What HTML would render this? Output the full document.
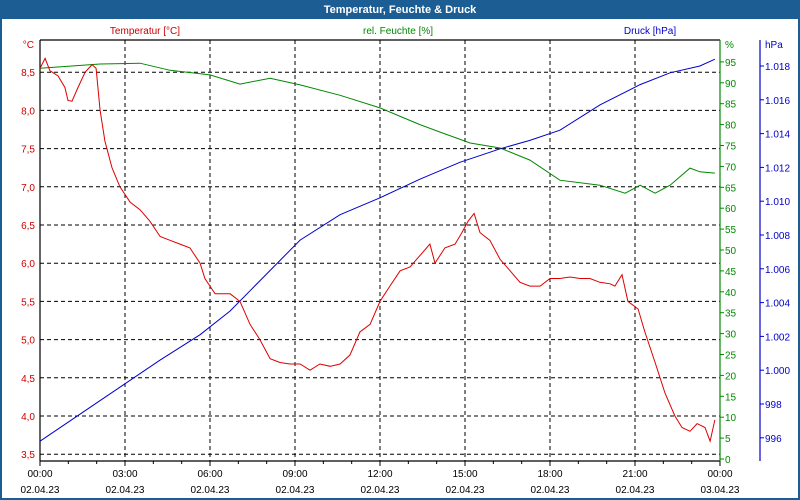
<!DOCTYPE html>
<html><head><meta charset="utf-8"><style>
body{margin:0;width:800px;height:500px;overflow:hidden;background:#fff;font-family:"Liberation Sans",sans-serif}
</style></head><body>
<svg id="c" width="800" height="500" style="position:absolute;left:0;top:0">
<rect x="0" y="0" width="800" height="500" fill="#fff"/>
<rect x="0" y="0" width="800" height="19" fill="#1c5e94"/>
<rect x="0" y="0" width="2" height="500" fill="#1c5e94"/>
<rect x="798" y="0" width="2" height="500" fill="#1c5e94"/>
<rect x="0" y="498" width="800" height="2" fill="#1c5e94"/>
<text x="400" y="13" fill="#fff" font-size="11" font-weight="bold" text-anchor="middle">Temperatur, Feuchte &amp; Druck</text>
<text x="145" y="34" fill="#c00" font-size="10" text-anchor="middle">Temperatur [°C]</text>
<text x="398" y="34" fill="#080" font-size="10" text-anchor="middle">rel. Feuchte [%]</text>
<text x="650" y="34" fill="#00c" font-size="10" text-anchor="middle">Druck [hPa]</text>
<text x="34" y="48" fill="#c00" font-size="10" text-anchor="end">°C</text>
<text x="725" y="48" fill="#080" font-size="10">%</text>
<text x="765" y="48" fill="#00c" font-size="10">hPa</text>
<g id="grid"></g><g id="axes"></g><g id="series"></g>
</svg>
<script>
const tempHours=[0,0.18,0.35,0.64,0.88,0.99,1.13,1.34,1.59,1.84,1.98,2.12,2.29,2.54,2.82,3.18,3.53,3.88,4.24,4.59,4.94,5.29,5.65,5.82,6.18,6.71,7.06,7.41,7.76,8.12,8.47,8.82,9.18,9.53,9.88,10.24,10.59,10.94,11.29,11.65,12,12.35,12.71,13.06,13.41,13.76,13.94,14.29,14.65,14.89,15.11,15.32,15.53,15.88,16.24,16.59,16.94,17.29,17.65,18,18.35,18.71,19.06,19.41,19.76,20.12,20.29,20.54,20.75,21.11,21.35,21.71,22.06,22.41,22.66,22.94,23.19,23.47,23.65,23.82];
const tempValues=[8.55,8.68,8.52,8.45,8.3,8.13,8.12,8.3,8.5,8.6,8.55,8.0,7.6,7.25,7.0,6.8,6.7,6.55,6.35,6.3,6.25,6.2,6.0,5.8,5.6,5.6,5.5,5.2,5.0,4.75,4.7,4.68,4.68,4.6,4.68,4.65,4.68,4.8,5.1,5.2,5.5,5.7,5.9,5.95,6.1,6.25,6.0,6.2,6.25,6.4,6.55,6.65,6.4,6.3,6.05,5.9,5.75,5.7,5.7,5.8,5.8,5.82,5.8,5.8,5.75,5.73,5.7,5.85,5.5,5.4,5.1,4.7,4.3,4.0,3.85,3.8,3.9,3.85,3.67,3.95];
const humHours=[0,2.12,3.53,4.59,6,7.06,8.12,9.18,10.59,12,13.41,14.12,15.18,16.24,17.29,18.35,19.76,20.65,21.18,21.71,22.24,22.94,23.29,23.82];
const humValues=[93.5,94.5,94.7,93,91.9,89.7,91.1,89.5,87,84,80,78.2,75.6,74.4,71.5,66.7,65.5,63.6,65.5,63.6,65.5,69.6,68.7,68.4];
const presHours=[0,1.06,2.12,3.18,4.24,5.65,6.71,7.41,9.18,10.59,12,13.41,14.82,16.24,17.29,18.35,19.76,21.18,22.24,23.29,23.82];
const presValues=[995.8,997,998.2,999.4,1000.6,1002.1,1003.5,1004.7,1007.7,1009.2,1010.2,1011.3,1012.3,1013.1,1013.6,1014.2,1015.7,1016.9,1017.6,1018,1018.4];
const tempTicks=[3.5,4.0,4.5,5.0,5.5,6.0,6.5,7.0,7.5,8.0,8.5];
const humTicks=[0,5,10,15,20,25,30,35,40,45,50,55,60,65,70,75,80,85,90,95];
const presTicks=[996,998,1000,1002,1004,1006,1008,1010,1012,1014,1016,1018];
const timeLabels=["00:00","03:00","06:00","09:00","12:00","15:00","18:00","21:00","00:00"];
const dateLabels=["02.04.23","02.04.23","02.04.23","02.04.23","02.04.23","02.04.23","02.04.23","02.04.23","03.04.23"];

const X0=40,X1=720,YT=40,YB=461;
const xS=h=>X0+h*(X1-X0)/24;
const yT=v=>416-(v-4)*76.4;
const yH=v=>459-v*4.18;
const yP=v=>66+(1018-v)*16.9;
const NS="http://www.w3.org/2000/svg";
function mk(tag,attrs,parent){const e=document.createElementNS(NS,tag);for(const k in attrs)e.setAttribute(k,attrs[k]);parent.appendChild(e);return e;}
const grid=document.getElementById('grid'),axes=document.getElementById('axes'),series=document.getElementById('series');

tempTicks.forEach(v=>{
  const y=yT(v);
  if(v>3.5||true){const l=mk('line',{x1:X0,x2:X1,y1:y,y2:y,stroke:'#000','stroke-dasharray':'4,3','stroke-width':1},grid);
  
  }
  const t=mk('text',{x:35,y:y+4,fill:'#c00','font-size':10,'text-anchor':'end'},axes);
  t.textContent=v.toFixed(1).replace('.',',');
  
  
});
timeLabels.forEach((s,i)=>{
  const x=xS(i*3);
  if(i>0&&i<8){const l=mk('line',{x1:x,x2:x,y1:YT,y2:YB,stroke:'#000','stroke-dasharray':'4,3'},grid);
  
  }
  const t=mk('text',{x:x,y:477,fill:'#000','font-size':10,'text-anchor':'middle'},axes);
  t.textContent=s;
  
  
  const d=mk('text',{x:x,y:493,fill:'#000','font-size':10,'text-anchor':'middle'},axes);
  d.textContent=dateLabels[i];
  
  
});
for(let h=0;h<=24;h++){const x=xS(h);const l=mk('line',{x1:x,x2:x,y1:YB,y2:YB+(h%3?3:5),stroke:'#000'},axes);
  
  }
humTicks.forEach(v=>{const y=yH(v);
  const l=mk('line',{x1:X1,x2:X1+4,y1:y,y2:y,stroke:'#080'},axes);
  
  
  const t=mk('text',{x:725,y:y+4,fill:'#080','font-size':10},axes);t.textContent=v;
  
  });
presTicks.forEach(v=>{const y=yP(v);
  const l=mk('line',{x1:760,x2:764,y1:y,y2:y,stroke:'#00c'},axes);
  
  
  const t=mk('text',{x:765,y:y+4,fill:'#00c','font-size':10},axes);
  t.textContent=v>=1000?'1.'+String(v-1000).padStart(3,'0'):String(v);
  
  });
[[X0,YT,X0,YB,'#000','left-axis'],[X0,YT,X1,YT,'#000','top-frame'],[X0,YB,X1,YB,'#000','bottom-axis'],[X1,YT,X1,YB,'#080','humidity-axis'],[760,YT,760,YB,'#00c','pressure-axis']].forEach(a=>{
  const l=mk('line',{x1:a[0],y1:a[1],x2:a[2],y2:a[3],stroke:a[4],'stroke-width':1.2},axes);
  
  });
function poly(hs,vs,ys,col,name){
  const p=mk('polyline',{points:hs.map((h,i)=>xS(h).toFixed(1)+','+ys(vs[i]).toFixed(1)).join(' '),fill:'none',stroke:col,'stroke-width':1},series);
  
  
}
poly(humHours,humValues,yH,'#080','humidity-line');
poly(presHours,presValues,yP,'#00c','pressure-line');
poly(tempHours,tempValues,yT,'#d00','temperature-line');
</script>
</body></html>
